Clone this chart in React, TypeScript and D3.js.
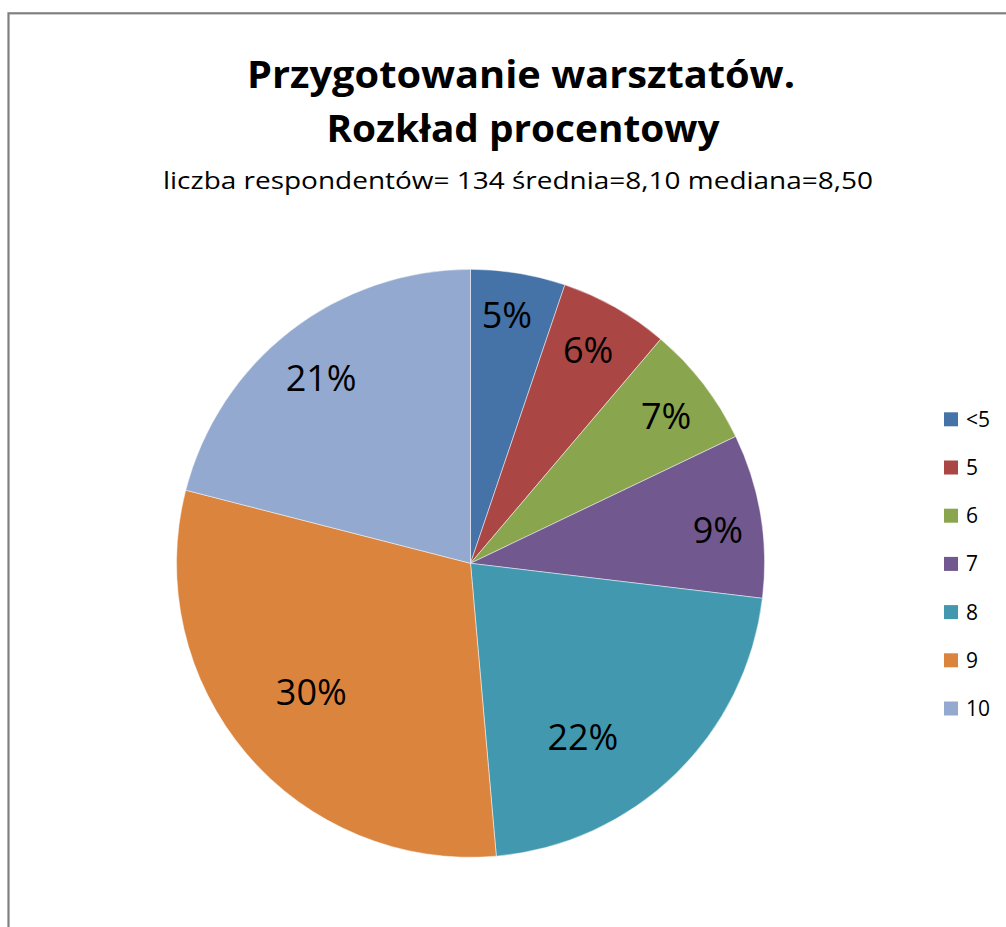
import React from "react";
import * as d3 from "d3";

const categories = ["<5", "5", "6", "7", "8", "9", "10"];
const values = [5.2, 6.0, 6.7, 9.0, 21.7, 30.4, 21.0];
const colors = ["#4572A7", "#AA4643", "#89A54E", "#71588F", "#4198AF", "#DB843D", "#93A9CF"];
const labelRadiusFrac = [0.853, 0.827, 0.832, 0.849, 0.704, 0.697, 0.809];
const labelAngleShiftDeg = [-1, -0.6, 0.7, 1.8, 11.2, 1.3, -1.1];
const titleLines = ["Przygotowanie warsztatów.", "Rozkład procentowy"];
const subtitle = "liczba respondentów= 134 średnia=8,10 mediana=8,50";

export default function App() {
  const W = 1006, H = 927;
  const cx = 470.5, cy = 563.3, R = 294;
  const pie = d3.pie<number>().sort(null).startAngle(0).endAngle(2 * Math.PI).value((d) => d);
  const arcs = pie(values);
  const arc = d3.arc<d3.PieArcDatum<number>>().innerRadius(0).outerRadius(R);
  const legendY = d3.scalePoint<string>().domain(categories).range([419.3, 708.5]);
  const font = "'Open Sans', 'Noto Sans', sans-serif";

  return (
    <svg width={W} height={H} style={{ position: "absolute", left: 0, top: 0, background: "#fff" }}>
      <rect x={0} y={0} width={W} height={H} fill="#fff" />
      <rect x={8.5} y={13.3} width={W + 20} height={H + 20} fill="none" stroke="#808080" strokeWidth={2.2} />
      <text x={521} y={88} textAnchor="middle" fontFamily={font} fontWeight={700} fontSize={38}
        textLength={548} lengthAdjust="spacingAndGlyphs" fill="#000">{titleLines[0]}</text>
      <text x={523} y={142} textAnchor="middle" fontFamily={font} fontWeight={700} fontSize={38}
        textLength={393} lengthAdjust="spacingAndGlyphs" fill="#000">{titleLines[1]}</text>
      <text x={518} y={189} textAnchor="middle" fontFamily={font} fontSize={24}
        textLength={710} lengthAdjust="spacingAndGlyphs" fill="#000">{subtitle}</text>
      <g transform={`translate(${cx},${cy})`}>
        {arcs.map((a, i) => (
          <path key={i} d={arc(a) || ""} fill={colors[i]} stroke="#ffffff" strokeOpacity={0.6} strokeWidth={0.8} />
        ))}
        {arcs.map((a, i) => {
          const mid = (a.startAngle + a.endAngle) / 2 + (labelAngleShiftDeg[i] * Math.PI) / 180;
          const r = R * labelRadiusFrac[i];
          const x = r * Math.sin(mid);
          const y = -r * Math.cos(mid);
          return (
            <text key={"l" + i} x={x} y={y} dy="0.36em" textAnchor="middle" fontFamily={font}
              fontSize={36} fill="#000">{`${Math.round(values[i])}%`}</text>
          );
        })}
      </g>
      {categories.map((c, i) => (
        <g key={"lg" + i}>
          <rect x={944} y={(legendY(c) as number) - 7} width={14} height={14} fill={colors[i]} />
          <text x={966} y={legendY(c) as number} dy="0.36em" fontFamily={font} fontSize={21} fill="#000">{c}</text>
        </g>
      ))}
    </svg>
  );
}
